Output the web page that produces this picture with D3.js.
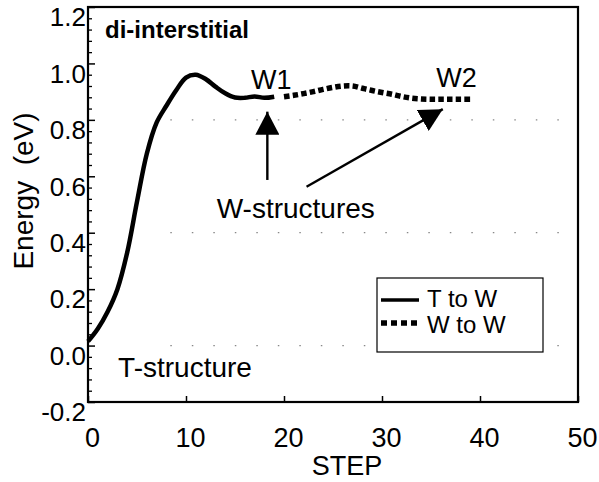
<!DOCTYPE html>
<html>
<head>
<meta charset="utf-8">
<script src="https://cdn.jsdelivr.net/npm/d3@7"></script>
<style>
  body { margin: 0; background: #fff; }
  text { font-family: "Liberation Sans", Arial, Helvetica, sans-serif; fill: #000; }
</style>
</head>
<body>
<div id="chart"></div>
<script>
// T to W (solid), steps 0..19
var stepsTW = [0, 1, 2, 3, 4, 5, 6, 7, 8, 9, 10, 11, 12, 13, 14, 15, 16, 17, 18, 19];
var energyTW = [0.015, 0.06, 0.12, 0.20, 0.33, 0.51, 0.68, 0.79, 0.85, 0.905, 0.95, 0.96, 0.945, 0.918, 0.894, 0.879, 0.878, 0.883, 0.878, 0.882];

// W to W (dotted), steps 20..39
var stepsWW = [20, 21, 22, 23, 24, 25, 26, 27, 28, 29, 30, 31, 32, 33, 34, 35, 36, 37, 38, 39];
var energyWW = [0.882, 0.887, 0.893, 0.90, 0.908, 0.915, 0.92, 0.92, 0.912, 0.904, 0.897, 0.891, 0.883, 0.877, 0.874, 0.873, 0.873, 0.873, 0.873, 0.873];

var xTicks = [0, 10, 20, 30, 40, 50];
var yTicks = [-0.2, 0.0, 0.2, 0.4, 0.6, 0.8, 1.0, 1.2];
var yTickLabels = ["-0.2", "0.0", "0.2", "0.4", "0.6", "0.8", "1.0", "1.2"];
var gridValues = [0.0, 0.4, 0.8];

// annotations in data units
var labelText = ["W1", "W2", "W-structures", "T-structure"];
var labelX = [18.7, 37.6, 21.2, 9.9];
var labelY = [0.91, 0.916, 0.453, -0.111];
var arrowFrom = [[18.3, 0.587], [22.3, 0.563]];
var arrowTo = [[18.3, 0.829], [36.2, 0.838]];

var legendNames = ["T to W", "W to W"];

var margin = { top: 7, right: 21, bottom: 80, left: 88 },
    width = 599 - margin.left - margin.right,
    height = 482 - margin.top - margin.bottom;

var svg = d3.select("#chart").append("svg")
    .attr("width", 599)
    .attr("height", 482)
    .append("g")
    .attr("transform", "translate(" + margin.left + "," + margin.top + ")");

let xScale = d3.scaleLinear().domain([0, 50]).range([0, width]);
let yScale = d3.scaleLinear().domain([-0.2, 1.2]).range([height, 0]);

// sparse dotted grid
svg.selectAll(".grid")
    .data(gridValues)
    .enter().append("line")
    .attr("x1", xScale(8.4))
    .attr("x2", width)
    .attr("y1", d => yScale(d))
    .attr("y2", d => yScale(d))
    .attr("stroke", "#888")
    .attr("stroke-width", 1.2)
    .attr("stroke-dasharray", "1.5,20");

// minor y ticks
var minor = d3.range(-0.2, 1.2001, 0.04).filter(v => Math.abs(Math.round(v * 5) - v * 5) > 0.01);
svg.append("g")
    .call(d3.axisLeft(yScale).tickValues(minor).tickSizeInner(-4).tickSizeOuter(0).tickFormat(""))
    .call(g => g.select(".domain").remove())
    .selectAll("line").attr("stroke-width", 1.3);

let yAxis = d3.axisLeft(yScale)
    .tickValues(yTicks)
    .tickSizeInner(-7)
    .tickSizeOuter(0)
    .tickPadding(2)
    .tickFormat((d, i) => yTickLabels[i]);
svg.append("g")
    .call(yAxis)
    .call(g => g.select(".domain").remove())
    .call(g => g.selectAll("line").attr("stroke-width", 1.5))
    .call(g => g.selectAll("text")
        .attr("dy", "0.72em")
        .attr("font-size", "26px")
        .style("font-family", "'Liberation Sans', Arial, sans-serif"));

let xAxis = d3.axisBottom(xScale)
    .tickValues(xTicks)
    .tickSizeInner(-6)
    .tickSizeOuter(0)
    .tickPadding(26);
svg.append("g")
    .attr("transform", "translate(0," + height + ")")
    .call(xAxis)
    .call(g => g.select(".domain").remove())
    .call(g => g.selectAll("line").attr("stroke-width", 1.5))
    .call(g => g.selectAll("text")
        .attr("dx", 4)
        .attr("font-size", "27px")
        .style("font-family", "'Liberation Sans', Arial, sans-serif"));

// frame
svg.append("rect")
    .attr("x", 0).attr("y", 0)
    .attr("width", width).attr("height", height)
    .attr("fill", "none")
    .attr("stroke", "#000")
    .attr("stroke-width", 2.2);

// curves
var line = d3.line()
    .x(d => xScale(d[0]))
    .y(d => yScale(d[1]))
    .curve(d3.curveCatmullRom);

svg.append("path")
    .datum(d3.zip(stepsTW, energyTW))
    .attr("d", line)
    .attr("fill", "none")
    .attr("stroke", "#000")
    .attr("stroke-width", 4.5)
    .attr("stroke-linejoin", "round");

svg.append("path")
    .datum(d3.zip(stepsWW, energyWW))
    .attr("d", line)
    .attr("fill", "none")
    .attr("stroke", "#000")
    .attr("stroke-width", 5.5)
    .attr("stroke-dasharray", "5.5,3.2");

// arrows
svg.append("defs").append("marker")
    .attr("id", "head")
    .attr("markerUnits", "userSpaceOnUse")
    .attr("viewBox", "0 0 24 24")
    .attr("markerWidth", 24)
    .attr("markerHeight", 24)
    .attr("refX", 23)
    .attr("refY", 12)
    .attr("orient", "auto")
    .append("path")
    .attr("d", "M0,0 L23,12 L0,24 Z")
    .attr("fill", "#000");

for (var i = 0; i < arrowFrom.length; i++) {
    svg.append("line")
        .attr("x1", xScale(arrowFrom[i][0]))
        .attr("y1", yScale(arrowFrom[i][1]))
        .attr("x2", xScale(arrowTo[i][0]))
        .attr("y2", yScale(arrowTo[i][1]))
        .attr("stroke", "#000")
        .attr("stroke-width", 2.4)
        .attr("marker-end", "url(#head)");
}

// annotation text
for (var j = 0; j < labelText.length; j++) {
    svg.append("text")
        .attr("x", xScale(labelX[j]))
        .attr("y", yScale(labelY[j]))
        .attr("text-anchor", "middle")
        .attr("font-size", j < 2 ? "27px" : "28px")
        .text(labelText[j]);
}

svg.append("text")
    .attr("x", 17)
    .attr("y", 31)
    .attr("font-size", "24px")
    .attr("font-weight", "bold")
    .text("di-interstitial");

// axis titles
svg.append("text")
    .attr("x", 259)
    .attr("y", height + 73)
    .attr("text-anchor", "middle")
    .attr("font-size", "27px")
    .text("STEP");

svg.append("text")
    .attr("transform", "rotate(-90)")
    .attr("x", -(184))
    .attr("y", -55)
    .attr("text-anchor", "middle")
    .attr("font-size", "28px")
    .style("white-space", "pre")
    .text("Energy  (eV)");

// legend
var lg = svg.append("g").attr("transform", "translate(289,271)");
lg.append("rect")
    .attr("width", 166).attr("height", 74)
    .attr("fill", "#fff")
    .attr("stroke", "#000")
    .attr("stroke-width", 1.2);

legendNames.forEach(function (name, k) {
    lg.append("line")
        .attr("x1", 4).attr("x2", 42)
        .attr("y1", 22 + k * 23).attr("y2", 22 + k * 23)
        .attr("stroke", "#000")
        .attr("stroke-width", k == 0 ? 3.5 : 5.5)
        .attr("stroke-dasharray", k == 0 ? null : "6,4");
    lg.append("text")
        .attr("x", 50)
        .attr("y", 29 + k * 26)
        .attr("font-size", "24px")
        .text(name);
});
</script>
</body>
</html>
